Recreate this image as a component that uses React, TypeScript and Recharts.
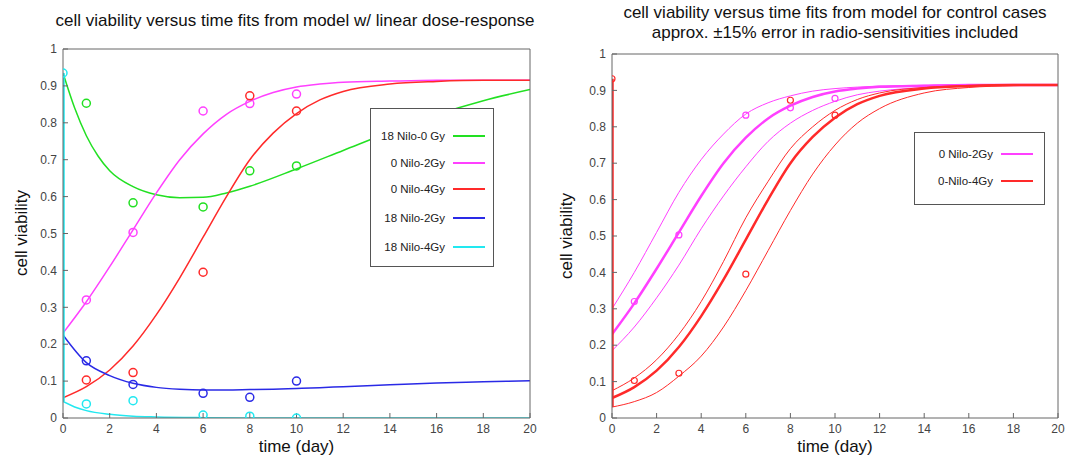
import React from 'react'
import {
  ComposedChart,
  Line,
  Scatter,
  XAxis,
  YAxis,
} from 'recharts'

// time axis
const xTicks = [0, 2, 4, 6, 8, 10, 12, 14, 16, 18, 20]
const yTicks = [0, 0.1, 0.2, 0.3, 0.4, 0.5, 0.6, 0.7, 0.8, 0.9, 1]

// measured days
const obsDays = [1, 3, 6, 8, 10]

// left panel observations
const green0Gy = [0.853, 0.583, 0.572, 0.67, 0.683]
const magenta2Gy = [0.32, 0.503, 0.832, 0.852, 0.878]
const red4Gy = [0.103, 0.123, 0.395, 0.873, 0.832]
const blue18Nilo2Gy = [0.155, 0.091, 0.067, 0.056, 0.1]
const cyan18Nilo4Gy = [0.038, 0.047, 0.008, 0.005, 0.0]
const startValue = 0.935

// fitted curves, sampled by day
const greenFitDays = [0, 0.5, 1, 1.5, 2, 3, 4, 5, 6, 7, 8, 10, 12, 14, 16, 18, 20]
const greenFit = [0.935, 0.84, 0.765, 0.71, 0.67, 0.627, 0.605, 0.597, 0.598, 0.61, 0.628, 0.675, 0.725, 0.775, 0.822, 0.86, 0.89]

const fitDays = [0, 1, 2, 3, 4, 5, 6, 7, 8, 9, 10, 11, 12, 14, 16, 18, 20]
const magentaFit = [0.23, 0.315, 0.41, 0.51, 0.61, 0.7, 0.77, 0.823, 0.858, 0.882, 0.897, 0.905, 0.91, 0.913, 0.915, 0.915, 0.915]
const redFit = [0.055, 0.085, 0.13, 0.195, 0.28, 0.38, 0.49, 0.6, 0.7, 0.772, 0.825, 0.862, 0.885, 0.905, 0.912, 0.915, 0.915]
const blueFit = [0.225, 0.15, 0.115, 0.094, 0.083, 0.078, 0.076, 0.076, 0.077, 0.078, 0.08, 0.082, 0.085, 0.09, 0.095, 0.098, 0.101]

const cyanFitDays = [0, 0.5, 1, 2, 3, 4, 6, 8, 12, 20]
const cyanFit = [0.045, 0.03, 0.02, 0.01, 0.005, 0.003, 0.001, 0, 0, 0]

// right panel: ±15% radio-sensitivity bands
const magentaUpper = [0.3, 0.4, 0.51, 0.62, 0.71, 0.78, 0.835, 0.866, 0.885, 0.898, 0.905, 0.909, 0.912, 0.914, 0.915, 0.915, 0.915]
const magentaLower = [0.185, 0.25, 0.33, 0.42, 0.52, 0.61, 0.69, 0.76, 0.81, 0.845, 0.87, 0.888, 0.898, 0.908, 0.913, 0.915, 0.915]
const redUpper = [0.075, 0.11, 0.16, 0.23, 0.32, 0.43, 0.55, 0.65, 0.74, 0.8, 0.845, 0.875, 0.893, 0.908, 0.913, 0.915, 0.915]
const redLower = [0.03, 0.045, 0.07, 0.115, 0.17, 0.25, 0.35, 0.46, 0.57, 0.67, 0.75, 0.81, 0.85, 0.893, 0.908, 0.913, 0.915]
const rightRed0 = 0.932

const leftLegend = [
  { name: '18 Nilo-0 Gy', color: '#22e022' },
  { name: '0 Nilo-2Gy', color: '#ff40ff' },
  { name: '0 Nilo-4Gy', color: '#ff2a2a' },
  { name: '18 Nilo-2Gy', color: '#2a2ae6' },
  { name: '18 Nilo-4Gy', color: '#22e8f0' },
]
const rightLegend = [
  { name: '0 Nilo-2Gy', color: '#ff40ff' },
  { name: '0-Nilo-4Gy', color: '#ff2a2a' },
]

const GREEN = '#22e022'
const MAGENTA = '#ff40ff'
const RED = '#ff2a2a'
const BLUE = '#2a2ae6'
const CYAN = '#22e8f0'

const FONT = '"Liberation Sans", Arial, Helvetica, sans-serif'
const AXIS = '#666'

const zip = (xs: number[], ys: number[]) => xs.map((x, i) => ({ x, y: ys[i] }))

const ring = (color: string, r: number, w: number) => (props: any) =>
  <circle cx={props.cx} cy={props.cy} r={r} fill="none" stroke={color} strokeWidth={w} />

function Axes() {
  const tickStyle = { fontSize: 12, fill: '#444', fontFamily: FONT }
  const line = { stroke: AXIS, strokeWidth: 1 }
  return [
    <XAxis
      key="xb"
      xAxisId="b"
      type="number"
      dataKey="x"
      domain={[0, 20]}
      ticks={xTicks}
      height={25}
      tickSize={-5}
      tickMargin={11}
      tick={tickStyle}
      axisLine={line}
      tickLine={line}
      allowDataOverflow
    />,
    <XAxis
      key="xt"
      xAxisId="t"
      orientation="top"
      type="number"
      dataKey="x"
      domain={[0, 20]}
      ticks={xTicks}
      height={1}
      tickSize={-5}
      tickFormatter={() => ''}
      axisLine={line}
      tickLine={line}
    />,
    <YAxis
      key="yl"
      yAxisId="l"
      type="number"
      domain={[0, 1]}
      ticks={yTicks}
      width={40}
      tickSize={-5}
      tickMargin={11}
      tick={tickStyle}
      axisLine={line}
      tickLine={line}
      allowDataOverflow
    />,
    <YAxis
      key="yr"
      yAxisId="r"
      orientation="right"
      type="number"
      domain={[0, 1]}
      ticks={yTicks}
      width={1}
      tickSize={-5}
      tickFormatter={() => ''}
      axisLine={line}
      tickLine={line}
    />,
  ]
}

function LegendBox({ items, left, top, width, height, rowTops, textRight }: any) {
  return (
    <div
      style={{
        position: 'absolute',
        left,
        top,
        width,
        height,
        border: '1px solid #555',
        background: '#fff',
        boxSizing: 'border-box',
        fontFamily: FONT,
        fontSize: 11.5,
        color: '#222',
      }}
    >
      {items.map((it: any, i: number) => (
        <div key={it.name} style={{ position: 'absolute', top: rowTops[i] - 8, left: 0, width, height: 16 }}>
          <span style={{ position: 'absolute', right: width - textRight, top: 0, lineHeight: '16px', whiteSpace: 'nowrap' }}>
            {it.name}
          </span>
          <span
            style={{
              position: 'absolute',
              left: textRight + 8,
              top: 7,
              width: 32,
              height: 2,
              background: it.color,
            }}
          />
        </div>
      ))}
    </div>
  )
}

function LeftPanel() {
  return (
    <div style={{ position: 'absolute', left: 0, top: 0, width: 540, height: 459 }}>
      <ComposedChart width={540} height={459} margin={{ top: 48, right: 9, bottom: 16, left: 23 }}>
        {Axes()}
        <Line xAxisId="b" yAxisId="l" data={zip(greenFitDays, greenFit)} dataKey="y" type="monotone" stroke={GREEN} strokeWidth={1.5} dot={false} isAnimationActive={false} />
        <Line xAxisId="b" yAxisId="l" data={zip(fitDays, magentaFit)} dataKey="y" type="monotone" stroke={MAGENTA} strokeWidth={1.5} dot={false} isAnimationActive={false} />
        <Line xAxisId="b" yAxisId="l" data={zip(fitDays, redFit)} dataKey="y" type="monotone" stroke={RED} strokeWidth={1.5} dot={false} isAnimationActive={false} />
        <Line xAxisId="b" yAxisId="l" data={zip(fitDays, blueFit)} dataKey="y" type="monotone" stroke={BLUE} strokeWidth={1.5} dot={false} isAnimationActive={false} />
        <Line xAxisId="b" yAxisId="l" data={zip(cyanFitDays, cyanFit)} dataKey="y" type="monotone" stroke={CYAN} strokeWidth={1.5} dot={false} isAnimationActive={false} />
        <Line xAxisId="b" yAxisId="l" data={zip([0, 0], [startValue, cyanFit[0]])} dataKey="y" type="linear" stroke={CYAN} strokeWidth={3.5} dot={false} isAnimationActive={false} />
        <Scatter xAxisId="b" yAxisId="l" data={zip(obsDays, green0Gy)} dataKey="y" shape={ring(GREEN, 4, 1.5)} isAnimationActive={false} />
        <Scatter xAxisId="b" yAxisId="l" data={zip(obsDays, magenta2Gy)} dataKey="y" shape={ring(MAGENTA, 4, 1.5)} isAnimationActive={false} />
        <Scatter xAxisId="b" yAxisId="l" data={zip(obsDays, red4Gy)} dataKey="y" shape={ring(RED, 4, 1.5)} isAnimationActive={false} />
        <Scatter xAxisId="b" yAxisId="l" data={zip(obsDays, blue18Nilo2Gy)} dataKey="y" shape={ring(BLUE, 4, 1.5)} isAnimationActive={false} />
        <Scatter xAxisId="b" yAxisId="l" data={zip([0, ...obsDays], [startValue, ...cyan18Nilo4Gy])} dataKey="y" shape={ring(CYAN, 4, 1.5)} isAnimationActive={false} />
      </ComposedChart>
      <div style={{ position: 'absolute', left: 0, width: 590, top: 11, textAlign: 'center', fontFamily: FONT, fontSize: 17, color: '#111', whiteSpace: 'nowrap' }}>
        cell viability versus time fits from model w/ linear dose-response
      </div>
      <div style={{ position: 'absolute', left: 63, width: 467, top: 437, textAlign: 'center', fontFamily: FONT, fontSize: 17, color: '#111' }}>
        time (day)
      </div>
      <div style={{ position: 'absolute', left: 22, top: 233, transform: 'translate(-50%, -50%) rotate(-90deg)', fontFamily: FONT, fontSize: 17, color: '#111', whiteSpace: 'nowrap' }}>
        cell viability
      </div>
      <LegendBox items={leftLegend} left={370} top={108} width={124} height={159} rowTops={[27, 54, 80, 109, 138]} textRight={74} />
    </div>
  )
}

function RightPanel() {
  return (
    <div style={{ position: 'absolute', left: 540, top: 0, width: 535, height: 459 }}>
      <ComposedChart width={535} height={459} margin={{ top: 53, right: 16, bottom: 16, left: 32 }}>
        {Axes()}
        <Line xAxisId="b" yAxisId="l" data={zip(fitDays, magentaUpper)} dataKey="y" type="monotone" stroke={MAGENTA} strokeWidth={1} dot={false} isAnimationActive={false} />
        <Line xAxisId="b" yAxisId="l" data={zip(fitDays, magentaLower)} dataKey="y" type="monotone" stroke={MAGENTA} strokeWidth={1} dot={false} isAnimationActive={false} />
        <Line xAxisId="b" yAxisId="l" data={zip(fitDays, magentaFit)} dataKey="y" type="monotone" stroke={MAGENTA} strokeWidth={2.5} dot={false} isAnimationActive={false} />
        <Line xAxisId="b" yAxisId="l" data={zip(fitDays, redUpper)} dataKey="y" type="monotone" stroke={RED} strokeWidth={1} dot={false} isAnimationActive={false} />
        <Line xAxisId="b" yAxisId="l" data={zip(fitDays, redLower)} dataKey="y" type="monotone" stroke={RED} strokeWidth={1} dot={false} isAnimationActive={false} />
        <Line xAxisId="b" yAxisId="l" data={zip(fitDays, redFit)} dataKey="y" type="monotone" stroke={RED} strokeWidth={2.5} dot={false} isAnimationActive={false} />
        <Line xAxisId="b" yAxisId="l" data={zip([0, 0], [rightRed0, redLower[0]])} dataKey="y" type="linear" stroke={RED} strokeWidth={3.5} dot={false} isAnimationActive={false} />
        <Scatter xAxisId="b" yAxisId="l" data={zip(obsDays, magenta2Gy)} dataKey="y" shape={ring(MAGENTA, 3, 1.2)} isAnimationActive={false} />
        <Scatter xAxisId="b" yAxisId="l" data={zip([0, ...obsDays], [rightRed0, ...red4Gy])} dataKey="y" shape={ring(RED, 3, 1.2)} isAnimationActive={false} />
      </ComposedChart>
      <div style={{ position: 'absolute', left: 72, width: 446, top: 3, textAlign: 'center', fontFamily: FONT, fontSize: 17, lineHeight: '20px', color: '#111', whiteSpace: 'nowrap' }}>
        cell viability versus time fits from model for control cases
        <br />
        approx. ±15% error in radio-sensitivities included
      </div>
      <div style={{ position: 'absolute', left: 72, width: 446, top: 437, textAlign: 'center', fontFamily: FONT, fontSize: 17, color: '#111' }}>
        time (day)
      </div>
      <div style={{ position: 'absolute', left: 27, top: 236, transform: 'translate(-50%, -50%) rotate(-90deg)', fontFamily: FONT, fontSize: 17, color: '#111', whiteSpace: 'nowrap' }}>
        cell viability
      </div>
      <LegendBox items={rightLegend} left={374} top={132} width={131} height={73} rowTops={[21, 48]} textRight={78} />
    </div>
  )
}

export default function App() {
  return (
    <div style={{ position: 'absolute', left: 0, top: 0, width: 1075, height: 459, background: '#fff', overflow: 'hidden' }}>
      <LeftPanel />
      <RightPanel />
    </div>
  )
}
